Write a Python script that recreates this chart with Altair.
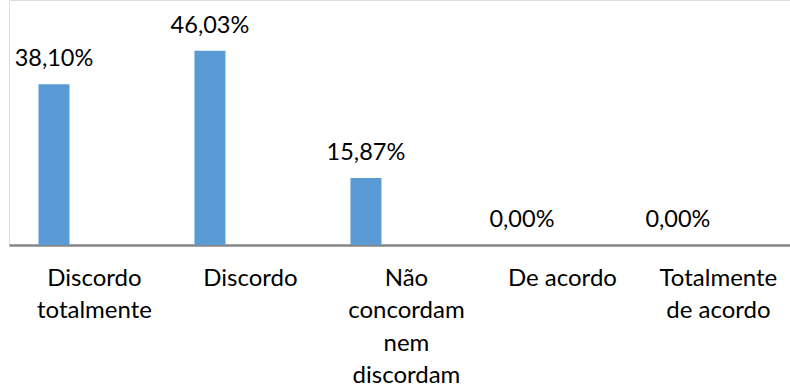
import altair as alt
import pandas as pd
import json

categories = ["Discordo totalmente", "Discordo", "Não concordam nem discordam", "De acordo", "Totalmente de acordo"]
values = [38.10, 46.03, 15.87, 0.00, 0.00]
value_labels = ["38,10%", "46,03%", "15,87%", "0,00%", "0,00%"]
label_lines = [["Discordo", "totalmente"], ["Discordo"], ["Não", "concordam", "nem", "discordam"], ["De acordo"], ["Totalmente", "de acordo"]]

df = pd.DataFrame({
    "idx": list(range(len(categories))),
    "categoria": categories,
    "valor": values,
    "rotulo": value_labels,
})

label_expr = json.dumps(label_lines, ensure_ascii=False) + "[datum.value]"

FONT = "Lato"

x_enc = alt.X(
    "idx:Q",
    scale=alt.Scale(domain=[-0.5127, 4.430], nice=False, zero=False),
    axis=alt.Axis(
        values=list(range(len(categories))),
        labelExpr=label_expr,
        title=None,
        grid=False,
        ticks=False,
        domainColor="#868686",
        domainWidth=2.5,
        labelFont=FONT,
        labelFontSize=24,
        labelColor="#000000",
        labelLineHeight=32.5,
        labelPadding=40,
        labelBaseline="alphabetic",
        labelAlign="center",
        labelFlush=False,
        labelOverlap=False,
    ),
)
y_enc = alt.Y("valor:Q", scale=alt.Scale(domain=[0, 58.06], nice=False), axis=None)

base = alt.Chart(df)

bars = base.mark_bar(color="#5B9BD5", size=31, xOffset=-40).encode(x=x_enc, y=y_enc)
texts = base.mark_text(
    font=FONT, fontSize=23.5, color="#000000", baseline="alphabetic", dy=-18, xOffset=-40
).encode(x=x_enc, y=y_enc, text="rotulo:N")

chart = (bars + texts).properties(
    width=781,
    height=245,
    autosize=alt.AutoSizeParams(type="none"),
    padding={"left": 9, "top": 0, "right": 0, "bottom": 143},
).configure_view(stroke=None).configure(background="#ffffff")

chart.save("out.html", embed_options={"renderer": "svg", "actions": False})
